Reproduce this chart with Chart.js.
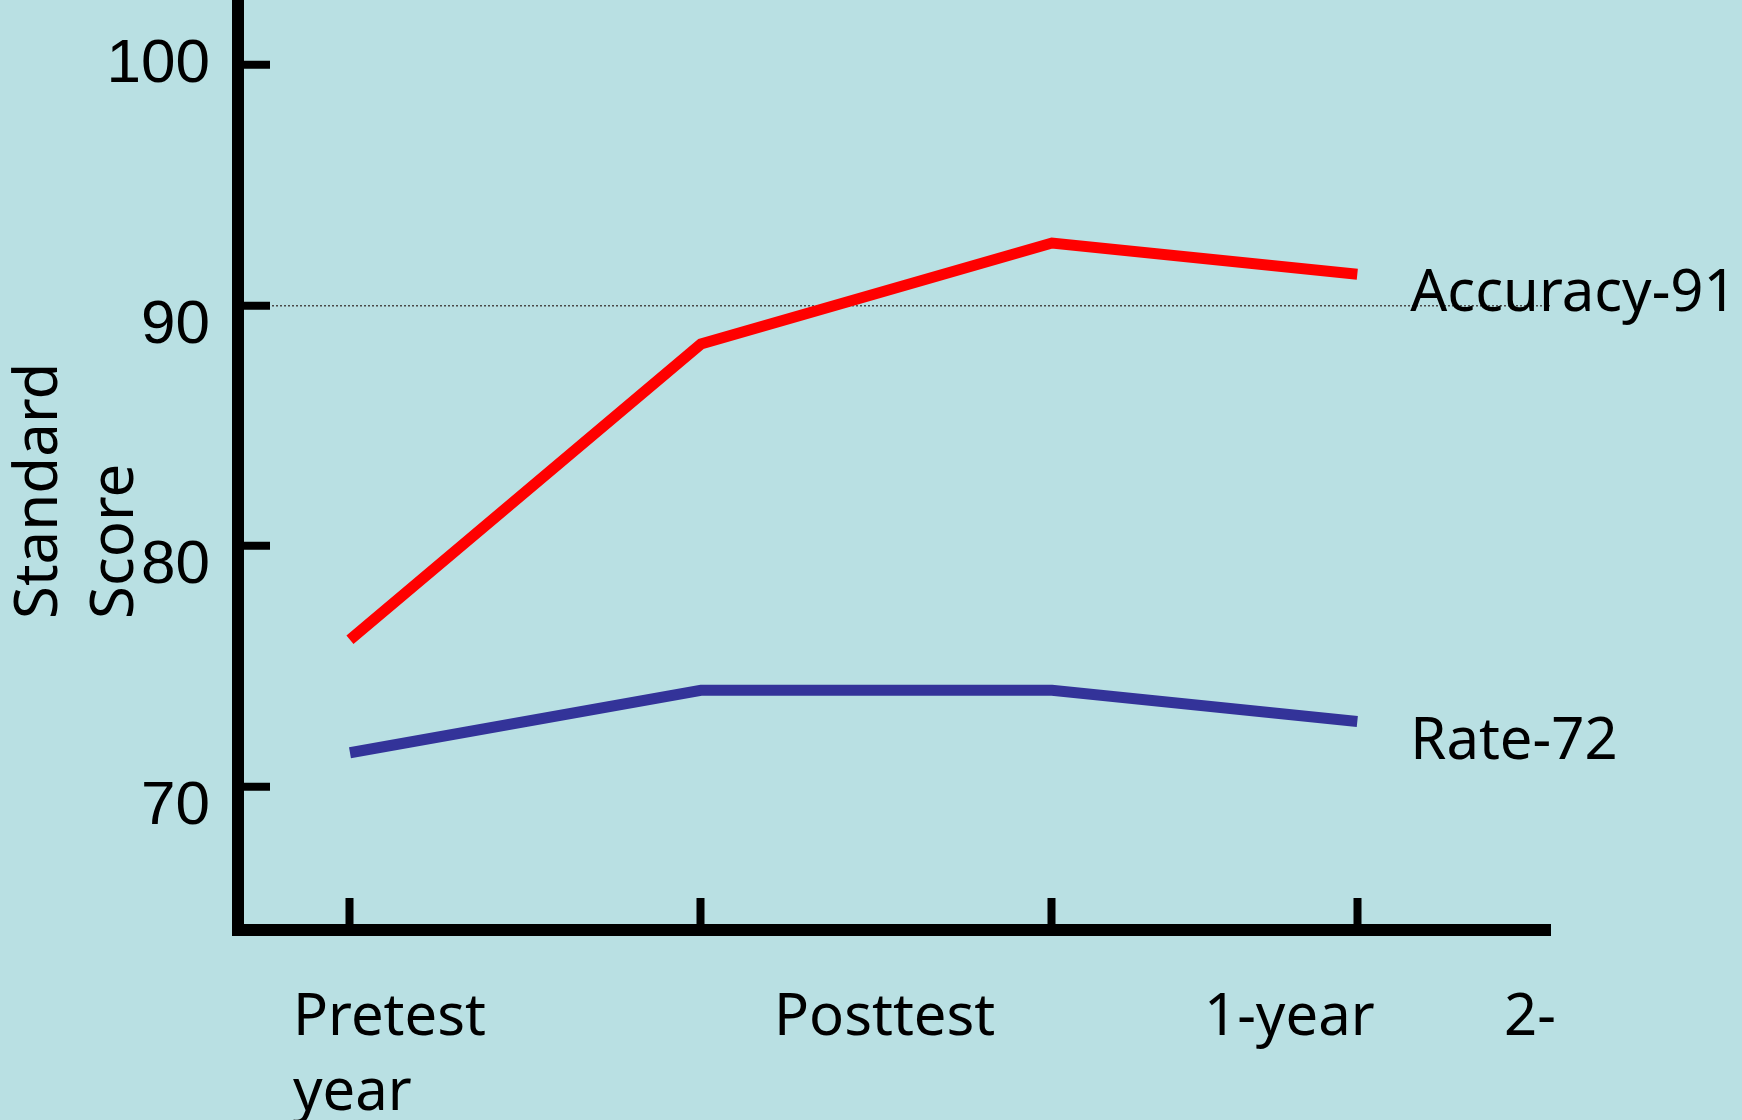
<!DOCTYPE html>
<html>
<head>
<meta charset="utf-8">
<script src="https://cdn.jsdelivr.net/npm/chart.js@4.4.1/dist/chart.umd.min.js"></script>
<style>
  html, body { margin: 0; padding: 0; background: #b9e0e3; }
  #wrap { width: 1742px; height: 1120px; }
</style>
</head>
<body>
<div id="wrap"><canvas id="scoreChart" width="1742" height="1120"></canvas></div>
<script>
// values
const categories = ['Pretest', 'Posttest', '1-year', '2-year'];
const testPoints = [0, 1, 2, 2.87];          // where each test sits on the time axis
const accuracy = [76.1, 88.4, 92.6, 91.3];
const rate = [71.4, 74.0, 74.0, 72.7];
const seriesLabels = ['Accuracy-91', 'Rate-72'];
const yTicks = [70, 80, 90, 100];
const yTitle = ['Standard', 'Score'];

const FONT_FAMILY = '"Noto Sans", sans-serif';
const FONT = '58px ' + FONT_FAMILY;

// free text on the slide: line labels, the category text box and the axis title
const slideText = {
    id: 'slideText',
    afterDraw(chart) {
        const ctx = chart.ctx;
        const xs = chart.scales.x;
        const ys = chart.scales.y;
        ctx.save();
        ctx.fillStyle = '#000';
        ctx.font = FONT;
        ctx.textAlign = 'left';
        ctx.textBaseline = 'alphabetic';

        [accuracy, rate].forEach((values, i) => {
            const last = values.length - 1;
            ctx.fillText(seriesLabels[i],
                xs.getPixelForValue(testPoints[last]) + 53,
                ys.getPixelForValue(values[last]) + 37);
        });

        // category text box (the last label wraps onto a second line)
        const slots = [293, 774, 1204, 1504];
        categories.forEach((c, i) => {
            if (i === categories.length - 1) {
                const cut = c.indexOf('-') + 1;
                ctx.fillText(c.slice(0, cut), slots[i], 1035);
                ctx.fillText(c.slice(cut), slots[0], 1110);
            } else {
                ctx.fillText(c, slots[i], 1035);
            }
        });

        // rotated y title, two lines bottom-aligned
        ctx.font = '60px ' + FONT_FAMILY;
        [[57, yTitle[0]], [133, yTitle[1]]].forEach(([x, txt]) => {
            ctx.save();
            ctx.translate(x, 619);
            ctx.rotate(-Math.PI / 2);
            ctx.fillText(txt, 0, 0);
            ctx.restore();
        });
        ctx.restore();
    }
};

const lineStyle = {
    borderWidth: 11,
    pointRadius: 0,
    pointHoverRadius: 0,
    tension: 0,
    borderCapStyle: 'butt',
    borderJoinStyle: 'miter',
    fill: false
};

new Chart(document.getElementById('scoreChart'), {
    type: 'line',
    data: {
        datasets: [
            Object.assign({
                label: seriesLabels[0],
                data: testPoints.map((t, i) => ({ x: t, y: accuracy[i] })),
                borderColor: '#ff0000'
            }, lineStyle),
            Object.assign({
                label: seriesLabels[1],
                data: testPoints.map((t, i) => ({ x: t, y: rate[i] })),
                borderColor: '#333399'
            }, lineStyle)
        ]
    },
    options: {
        responsive: false,
        animation: false,
        events: [],
        layout: { padding: { left: 0, right: 192, top: 2, bottom: 0 } },
        plugins: {
            legend: { display: false },
            tooltip: { enabled: false }
        },
        scales: {
            x: {
                type: 'linear',
                position: 'bottom',
                min: -0.319,
                max: 3.419,
                afterBuildTicks: s => { s.ticks = testPoints.map(v => ({ value: v })); },
                ticks: { display: false },
                grid: {
                    drawOnChartArea: false,
                    drawTicks: true,
                    tickLength: -32,
                    tickWidth: 8,
                    tickColor: '#000'
                },
                border: { display: true, color: '#000', width: 12 },
                afterFit: s => {
                    s.height = 190;
                    s.paddingLeft = 0;
                    s.paddingRight = 0;
                }
            },
            y: {
                type: 'linear',
                min: 64.03,
                max: 102.62,
                afterBuildTicks: s => { s.ticks = yTicks.map(v => ({ value: v })); },
                ticks: {
                    color: '#000',
                    padding: 60,
                    font: { family: '"Liberation Sans", Arial, sans-serif', size: 62, lineHeight: '40px' },
                    // the lower labels sit a little under their tick on the slide
                    callback: v => v === 100 ? String(v) : ['', String(v)]
                },
                grid: {
                    color: c => (c.tick && c.tick.value === 90) ? '#4a4a4a' : 'rgba(0,0,0,0)',
                    lineWidth: 1.5,
                    drawTicks: true,
                    tickLength: -32,
                    tickWidth: 8,
                    tickColor: '#000'
                },
                border: { display: true, color: '#000', width: 12, dash: [2, 2] },
                afterFit: s => {
                    s.width = 238;
                    s.paddingTop = 0;
                    s.paddingBottom = 0;
                }
            }
        }
    },
    plugins: [slideText]
});
</script>
</body>
</html>
